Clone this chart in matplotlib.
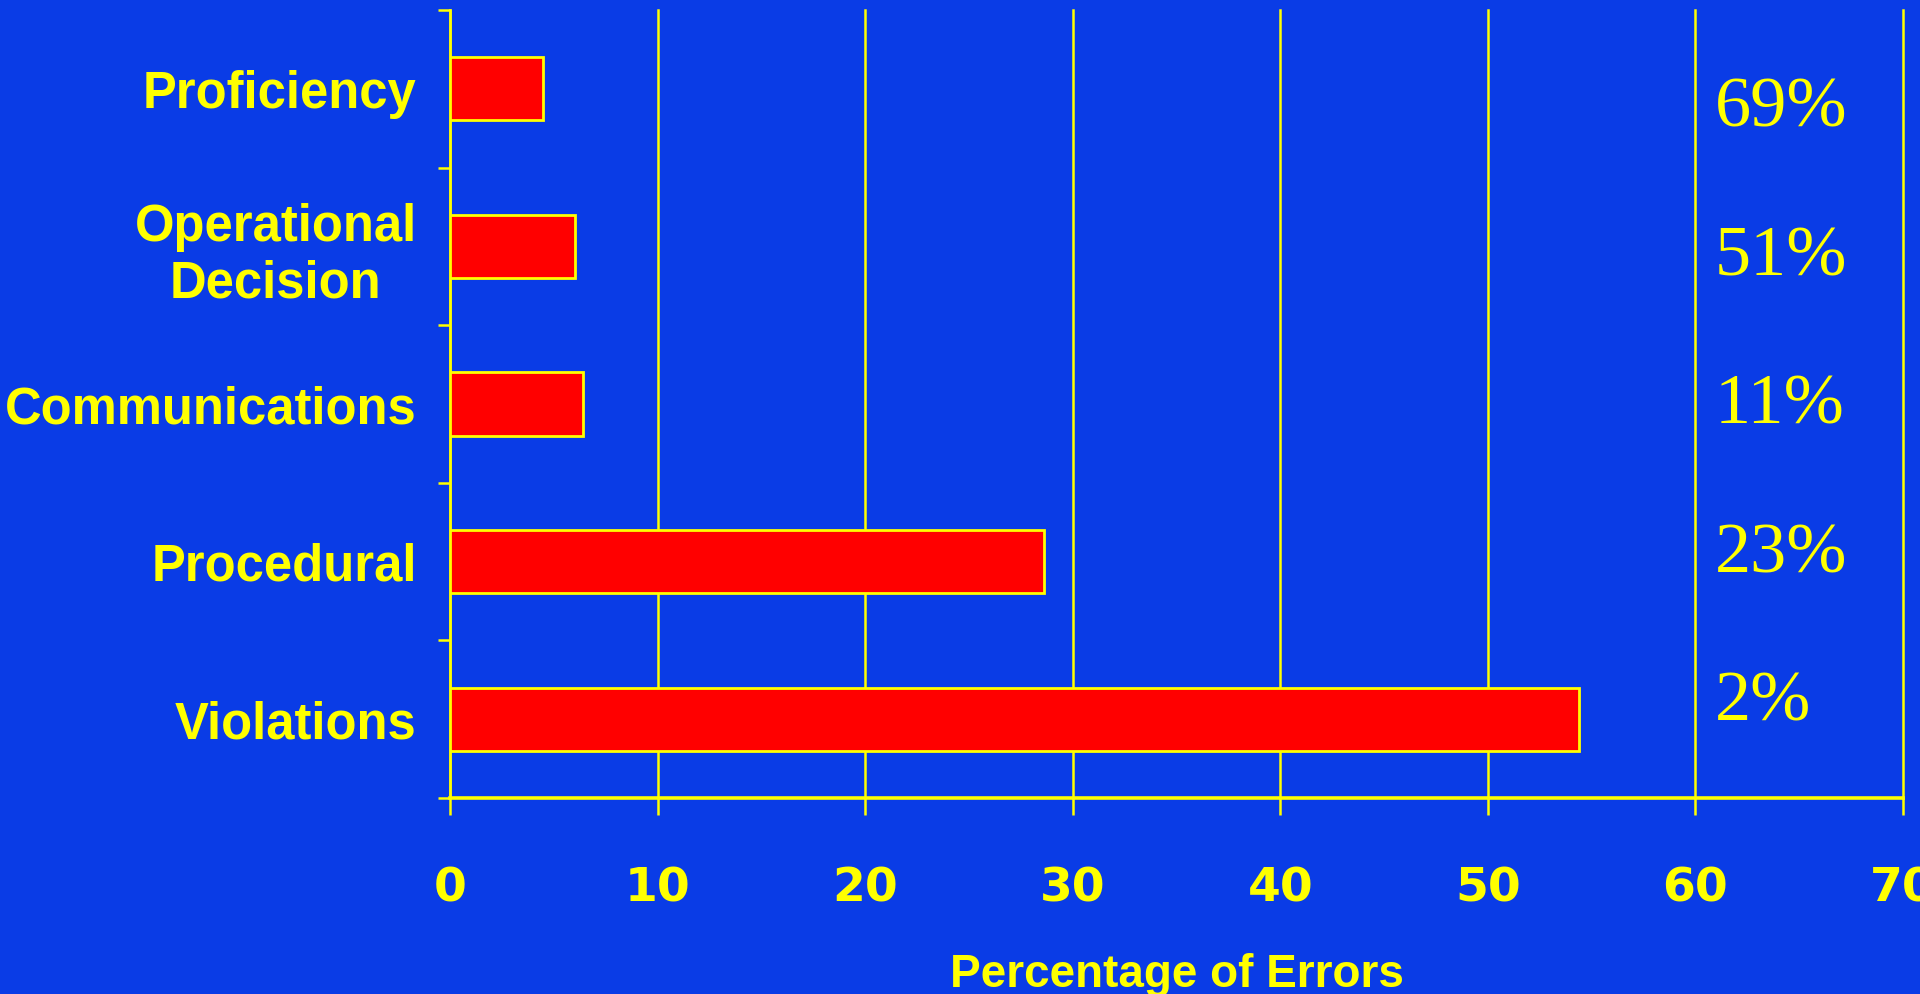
import matplotlib.pyplot as plt
import numpy as np

categories = ['Violations', 'Procedural', 'Communications', 'Operational\nDecision', 'Proficiency']
error_pct = [54.4, 28.6, 6.4, 6.0, 4.5]
share_labels = ['2%', '23%', '11%', '51%', '69%']
x_ticks = [0, 10, 20, 30, 40, 50, 60, 70]

bg = '#0a3ce6'
yellow = '#ffff00'

fig = plt.figure(figsize=(19.2, 9.94), dpi=100, facecolor=bg)
ax = fig.add_axes([0.2344, 0.1972, 0.7567, 0.7927], facecolor=bg)

pos = np.arange(len(categories))
ax.barh(pos, error_pct, height=0.4, color='#ff0000', edgecolor=yellow,
        linewidth=2, zorder=3)

ax.set_xlim(0, 70)
ax.set_ylim(-0.5, len(categories) - 0.5)

# vertical grid at every 10%
ax.set_xticks(x_ticks)
ax.set_xticklabels([str(t) for t in x_ticks])
ax.grid(axis='x', color=yellow, linewidth=1.8, zorder=1)
ax.set_axisbelow(True)
for line in ax.get_xgridlines():
    line.set_clip_on(False)
ax.tick_params(axis='x', direction='out', length=12, width=1.8, color=yellow,
               labelcolor=yellow, labelsize=34, pad=37)
for lbl in ax.get_xticklabels():
    lbl.set_fontfamily('DejaVu Sans')
    lbl.set_fontweight('bold')

# ticks between categories, names at the centres
ax.set_yticks(np.arange(-0.5, len(categories), 1.0))
ax.set_yticklabels([])
ax.set_yticks(pos, minor=True)
ax.set_yticklabels(categories, minor=True, fontfamily='Liberation Sans',
                   fontweight='bold', fontsize=36.5, color=yellow,
                   multialignment='center')
ax.tick_params(axis='y', which='major', direction='out', length=9, width=1.8,
               color=yellow)
ax.tick_params(axis='y', which='minor', length=0, pad=24)

for side in ['top', 'right']:
    ax.spines[side].set_visible(False)
ax.spines['left'].set_color(yellow)
ax.spines['left'].set_linewidth(1.8)
ax.spines['bottom'].set_color(yellow)
ax.spines['bottom'].set_linewidth(2.6)

ax.set_xlabel('Percentage of Errors', fontfamily='Liberation Sans',
              fontweight='bold', fontsize=33, color=yellow, labelpad=30)

label_y = np.linspace(-0.01, 3.76, len(share_labels))
for y, txt in zip(label_y, share_labels):
    ax.text(60.95, y, txt, fontfamily='Liberation Serif', fontsize=52,
            color=yellow, ha='left', va='baseline', zorder=4)

fig.savefig('out.png', dpi=100, facecolor=bg)
